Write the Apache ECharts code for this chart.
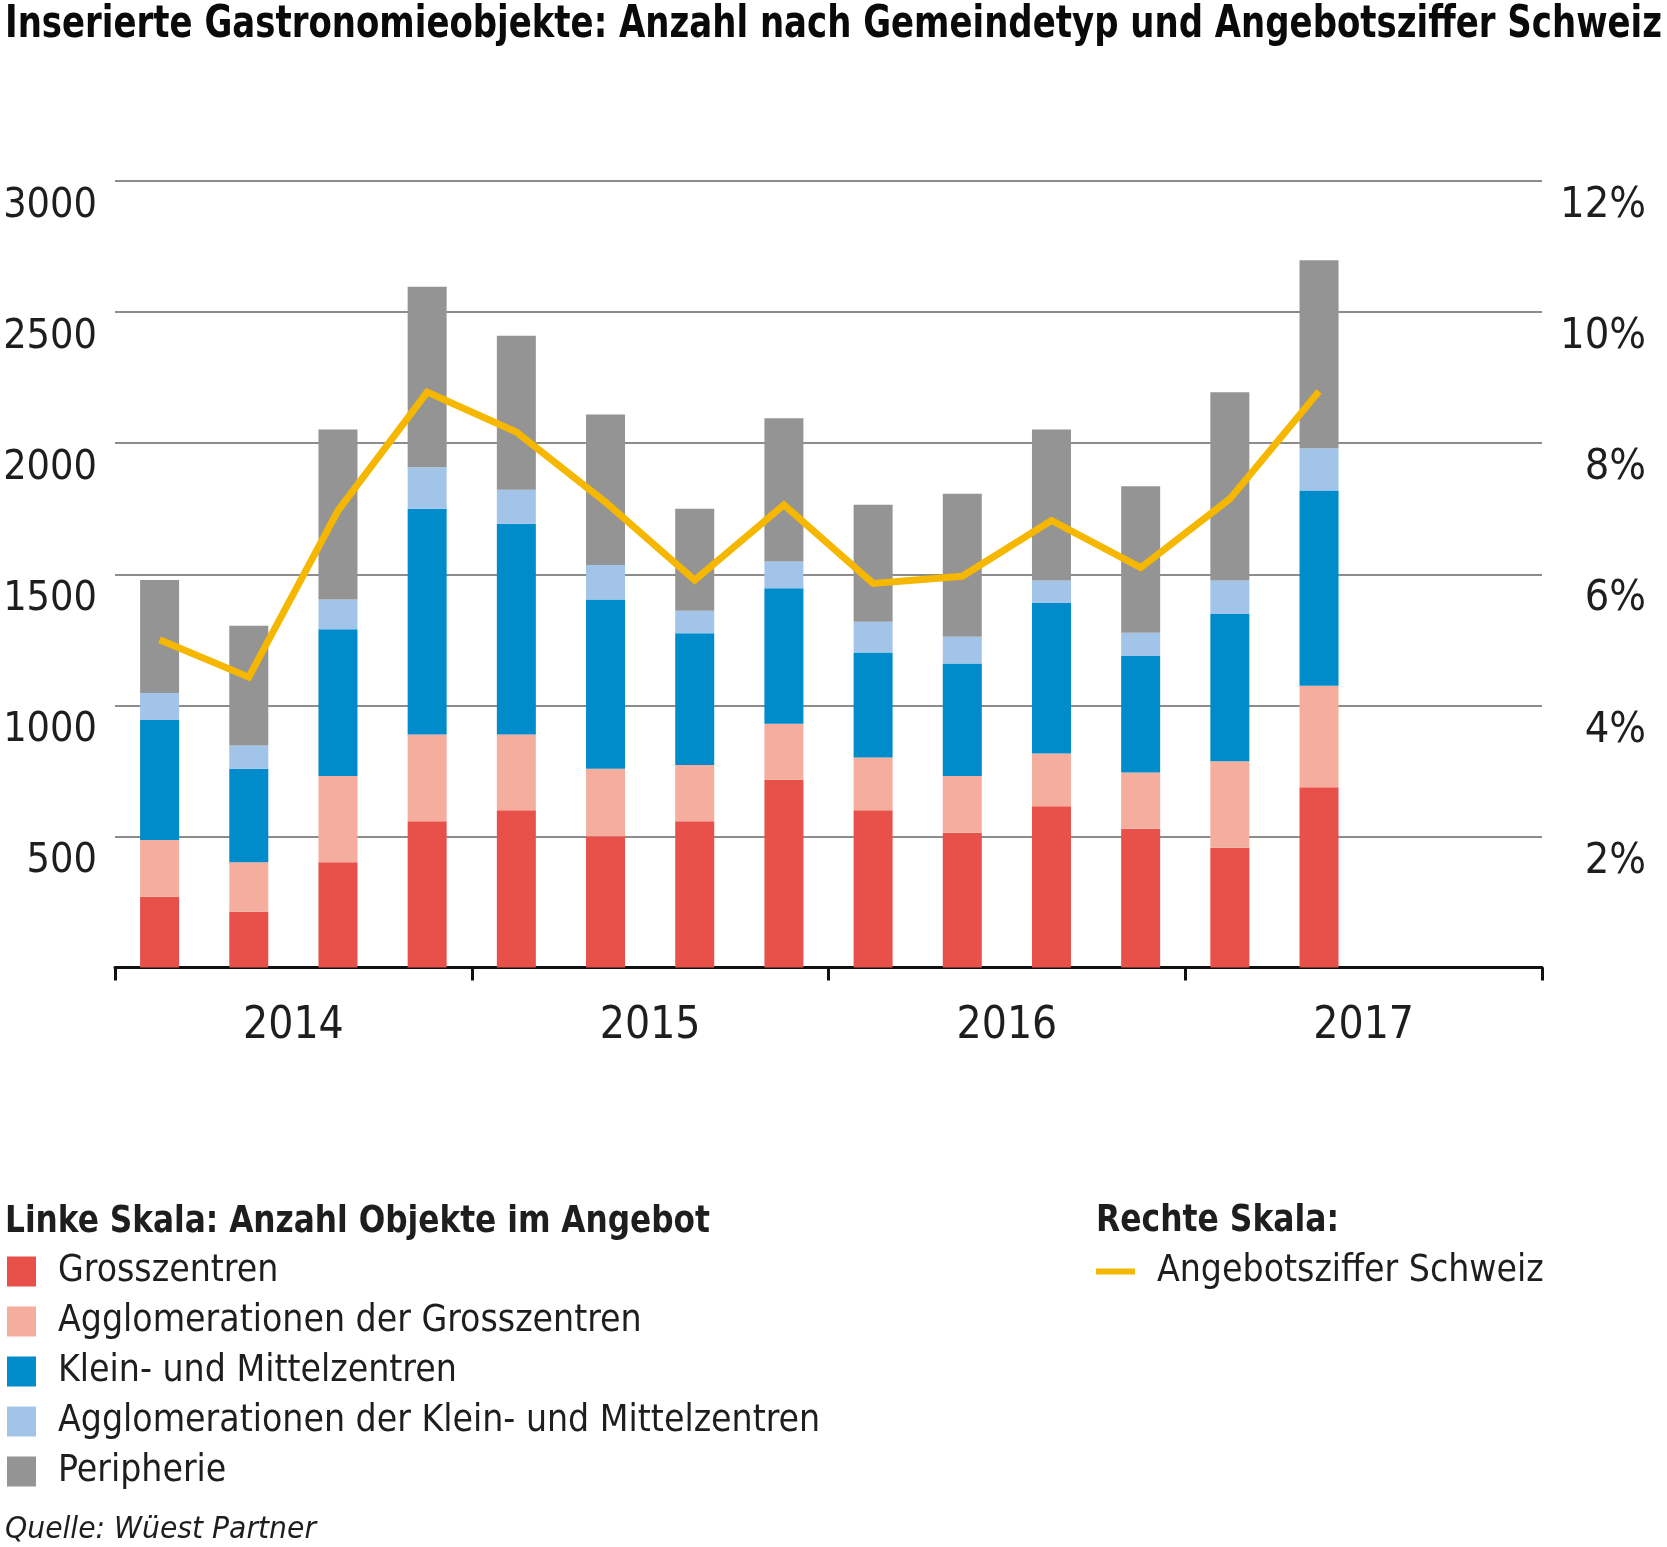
<!DOCTYPE html>
<html>
<head>
<meta charset="utf-8">
<script src="https://cdn.jsdelivr.net/npm/echarts@6/dist/echarts.min.js"></script>
<style>
html,body{margin:0;padding:0;background:#fff;}
#chart{width:1667px;height:1547px;}
</style>
</head>
<body>
<div id="chart"></div>
<script>
// Quarters 2014 Q1 .. 2017 Q4 (data until 2017 Q2)
var quarters = ['2014 Q1','2014 Q2','2014 Q3','2014 Q4','2015 Q1','2015 Q2','2015 Q3','2015 Q4',
                '2016 Q1','2016 Q2','2016 Q3','2016 Q4','2017 Q1','2017 Q2','2017 Q3','2017 Q4'];
var years = ['2014','2015','2016','2017'];

var grosszentren       = [270, 213, 401, 558, 600, 501, 558, 716, 600, 514, 615, 529, 457, 688];
var agglGross          = [216, 188, 329, 331, 289, 257, 214, 214, 201, 216, 201, 215, 330, 387];
var kleinMittel        = [458, 357, 560, 861, 804, 646, 503, 517, 401, 430, 574, 444, 561, 744];
var agglKleinMittel    = [103,  89, 114, 158, 129, 131,  86, 102, 117, 102,  86,  89, 128, 162];
var peripherie         = [431, 457, 648, 689, 588, 574, 389, 546, 446, 545, 576, 559, 718, 717];
var angebotsziffer     = [5.0, 4.43, 6.97, 8.78, 8.17, 7.1, 5.91, 7.06, 5.86, 5.97, 6.82, 6.1, 7.15, 8.79];

var leftTicks = [500, 1000, 1500, 2000, 2500, 3000];
var rightTicks = [2, 4, 6, 8, 10, 12];

var titleText = 'Inserierte Gastronomieobjekte: Anzahl nach Gemeindetyp und Angebotsziffer Schweiz';
var leftHeader = 'Linke Skala: Anzahl Objekte im Angebot';
var rightHeader = 'Rechte Skala:';
var sourceText = 'Quelle: Wüest Partner';

var FONT = '"DejaVu Sans Condensed","DejaVu Sans",sans-serif';

var measureCtx = document.createElement('canvas').getContext('2d');
function textWidth(str, weight, style, size) {
  measureCtx.font = style + ' ' + weight + ' ' + size + 'px ' + FONT;
  return measureCtx.measureText(str).width;
}
function fitText(str, x, y, size, weight, style, targetW, color) {
  var w = textWidth(str, weight, style, size);
  return {
    type: 'text', x: x, y: y, scaleX: targetW / w, scaleY: 1,
    silent: true,
    style: {
      text: str, fontFamily: FONT, fontSize: size, fontWeight: weight, fontStyle: style,
      fill: color, verticalAlign: 'middle', align: 'left'
    }
  };
}

var chart = echarts.init(document.getElementById('chart'), null, {renderer: 'canvas'});

function bar(name, data, color) {
  return {
    name: name, type: 'bar', stack: 'total', data: data,
    xAxisIndex: 0, yAxisIndex: 0, barWidth: 39,
    itemStyle: {color: color}, emphasis: {disabled: true}
  };
}

var option = {
  animation: false,
  backgroundColor: '#ffffff',
  textStyle: {fontFamily: FONT},
  graphic: [
    fitText(titleText, 5, 25, 45, 'bold', 'normal', 1657, '#0a0a0a'),
    fitText(leftHeader, 5, 1222, 38, 'bold', 'normal', 705, '#1e1e1e'),
    fitText(rightHeader, 1096, 1221, 38, 'bold', 'normal', 243, '#1e1e1e'),
    fitText(sourceText, 5, 1530, 30, 'normal', 'italic', 311, '#1e1e1e')
  ],
  legend: [{
    data: ['Grosszentren','Agglomerationen der Grosszentren','Klein- und Mittelzentren',
           'Agglomerationen der Klein- und Mittelzentren','Peripherie'],
    orient: 'vertical', left: 7, top: 1253, padding: 0,
    itemWidth: 29, itemHeight: 30, itemGap: 13, icon: 'rect',
    selectedMode: false,
    textStyle: {fontFamily: FONT, fontSize: 37, color: '#1e1e1e', lineHeight: 30, padding: [0, 0, 0, 17]}
  }, {
    data: ['Angebotsziffer Schweiz'],
    orient: 'vertical', left: 1096, top: 1253, padding: 0,
    itemWidth: 39, itemHeight: 6, icon: 'rect',
    selectedMode: false,
    textStyle: {fontFamily: FONT, fontSize: 37, color: '#1e1e1e', lineHeight: 30, padding: [0, 0, 0, 17]}
  }],
  grid: {left: 115, right: 125, top: 181, bottom: 579.5, containLabel: false, outerBoundsMode: 'none'},
  xAxis: [{
    type: 'category', data: quarters, boundaryGap: true,
    axisLine: {show: true, lineStyle: {color: '#111', width: 3}},
    axisTick: {show: true, interval: 3, length: 13, lineStyle: {color: '#111', width: 3}},
    axisLabel: {show: false}
  }, {
    type: 'category', data: years, position: 'bottom', boundaryGap: true,
    axisLine: {show: false}, axisTick: {show: false},
    axisLabel: {show: true, margin: 37, fontFamily: FONT, fontSize: 44, color: '#1e1e1e', lineHeight: 44}
  }],
  yAxis: [{
    type: 'value', min: 0, max: 3000, interval: 500,
    axisLine: {show: false}, axisTick: {show: false},
    splitLine: {show: true, lineStyle: {color: '#666', width: 1.5}},
    axisLabel: {
      margin: 18, fontFamily: FONT, fontSize: 41, color: '#1e1e1e',
      verticalAlign: 'top', lineHeight: 50,
      formatter: function (v) { return leftTicks.indexOf(v) >= 0 ? String(v) : ''; }
    }
  }, {
    type: 'value', min: 0, max: 12, interval: 2, position: 'right',
    axisLine: {show: false}, axisTick: {show: false}, splitLine: {show: false},
    axisLabel: {
      margin: 104, align: 'right', fontFamily: FONT, fontSize: 43, color: '#1e1e1e',
      verticalAlign: 'top', lineHeight: 50,
      formatter: function (v) { return rightTicks.indexOf(v) >= 0 ? v + '%' : ''; }
    }
  }],
  series: [
    bar('Grosszentren', grosszentren, '#E8504A'),
    bar('Agglomerationen der Grosszentren', agglGross, '#F5AE9E'),
    bar('Klein- und Mittelzentren', kleinMittel, '#008BCB'),
    bar('Agglomerationen der Klein- und Mittelzentren', agglKleinMittel, '#A2C4E8'),
    bar('Peripherie', peripherie, '#949494'),
    {
      name: 'Angebotsziffer Schweiz', type: 'line', data: angebotsziffer,
      xAxisIndex: 0, yAxisIndex: 1, showSymbol: false, symbol: 'none',
      lineStyle: {color: '#F5B700', width: 7, join: 'miter'},
      itemStyle: {color: '#F5B700'},
      emphasis: {disabled: true}, z: 5
    }
  ]
};
chart.setOption(option);
</script>
</body>
</html>
